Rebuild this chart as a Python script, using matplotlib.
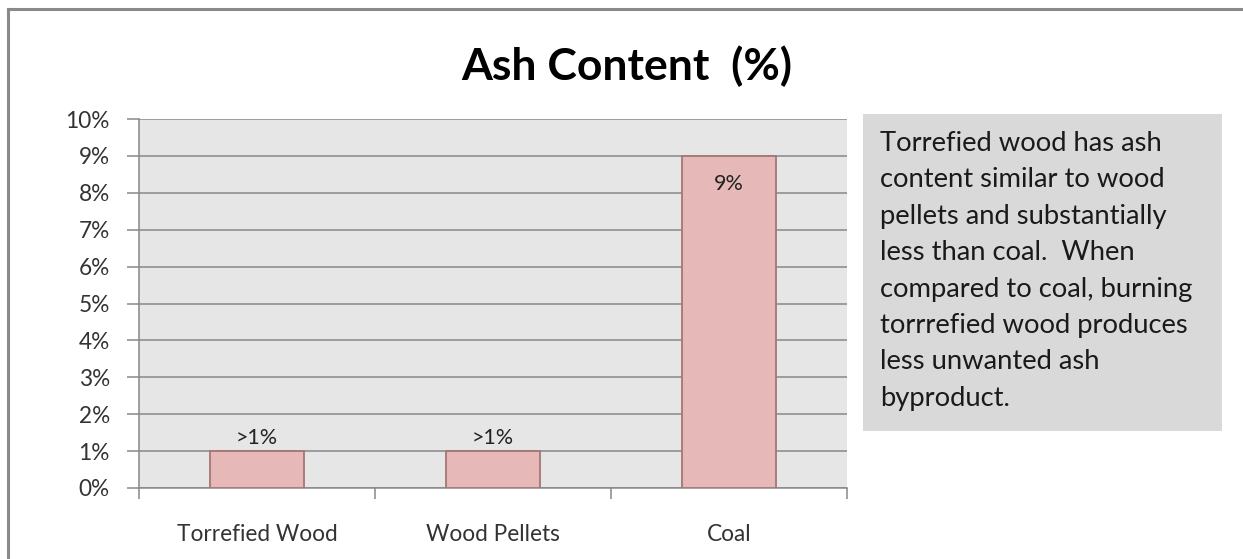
import matplotlib.pyplot as plt
from matplotlib.patches import Rectangle
from matplotlib.lines import Line2D

# ash content by fuel type (%)
fuels = ['Torrefied Wood', 'Wood Pellets', 'Coal']
ash_pct = [1, 1, 9]
bar_labels = ['>1%', '>1%', '9%']
y_ticks = list(range(0, 11))

note = ("Torrefied wood has ash\n"
        "content similar to wood\n"
        "pellets and substantially\n"
        "less than coal.  When\n"
        "compared to coal, burning\n"
        "torrrefied wood produces\n"
        "less unwanted ash\n"
        "byproduct.")

plt.rcParams['font.family'] = ['Lato', 'DejaVu Sans']

W, H = 1243, 559
fig = plt.figure(figsize=(W / 100, H / 100), dpi=100)
fig.patch.set_facecolor('white')

# outer frame (only top and left edges show)
fig.add_artist(Line2D([8 / W, 8 / W], [0, 1 - 9 / H], color='#8a8a8a', lw=2.2))
fig.add_artist(Line2D([8 / W, 1], [1 - 9 / H, 1 - 9 / H], color='#8a8a8a', lw=2.2))

ax = fig.add_axes([139 / W, 71 / H, 708 / W, 369 / H])
ax.set_facecolor('#e6e6e6')

x = range(len(fuels))
ax.bar(x, ash_pct, width=0.4, color='#e6b9b8', edgecolor='#a47675', linewidth=1.3, zorder=3)

for i, (v, lab) in enumerate(zip(ash_pct, bar_labels)):
    if v > 5:
        ax.text(i, v - 0.5, lab, ha='center', va='top', fontsize=15.5, color='#222222', zorder=4)
    else:
        ax.text(i, v + 0.08, lab, ha='center', va='bottom', fontsize=15.5, color='#222222', zorder=4)

ax.set_xlim(-0.5, 2.5)
ax.set_ylim(0, 10)
ax.set_yticks(y_ticks)
ax.set_yticklabels([f'{t}%' for t in y_ticks])
ax.yaxis.grid(True, color='#888888', linewidth=1.1, zorder=0)
ax.set_axisbelow(True)

# category boundary ticks, names centred under the bars
ax.set_xticks([0.5 + i for i in range(-1, len(fuels))], minor=False)
ax.set_xticklabels([])
ax.set_xticks(list(x), minor=True)
ax.set_xticklabels(fuels, minor=True)
ax.tick_params(axis='x', which='minor', length=0, pad=26, labelsize=16.3, labelcolor='#333333')
ax.tick_params(axis='x', which='major', length=8, color='#888888', width=1.1)
ax.tick_params(axis='y', length=9, color='#888888', width=1.1, pad=12, labelsize=16.3, labelcolor='#333333')

for s in ['top', 'right']:
    ax.spines[s].set_visible(False)
for s in ['left', 'bottom']:
    ax.spines[s].set_color('#888888')
    ax.spines[s].set_linewidth(1.1)

fig.text(627 / W, 1 - 66 / H, 'Ash Content  (%)', ha='center', va='center',
         fontsize=32, fontweight='bold', color='black')

# side note box
fig.add_artist(Rectangle((863 / W, 1 - 431 / H), 359 / W, 317 / H,
                         transform=fig.transFigure, facecolor='#d9d9d9', edgecolor='none'))
fig.text(880 / W, 1 - 131 / H, note, ha='left', va='top', fontsize=19.7,
         color='#1a1a1a', linespacing=1.57)

fig.savefig('out.png', dpi=100)
